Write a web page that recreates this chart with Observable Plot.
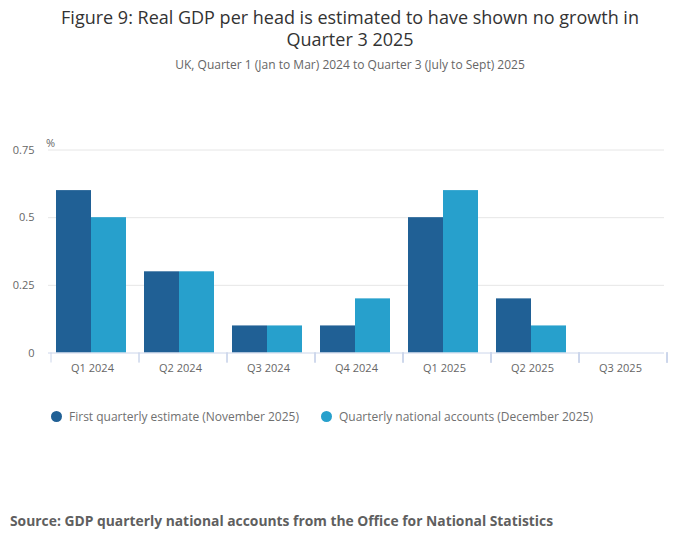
<!DOCTYPE html>
<html>
<head>
<meta charset="utf-8">
<script src="https://cdn.jsdelivr.net/npm/d3@7"></script>
<script src="https://cdn.jsdelivr.net/npm/@observablehq/plot@0.6"></script>
<style>
  html, body { margin: 0; padding: 0; background: #fff; }
  #wrap { position: relative; width: 700px; height: 549px; font-family: "Open Sans", sans-serif; overflow: hidden; }
  .abs { position: absolute; }
  .title { left: 0; width: 700px; text-align: center; font-size: 18px; line-height: 20px; color: #333; white-space: nowrap; }
  #t1 { top: 7px; }
  #t2 { top: 29px; }
  #subtitle { left: 0; width: 700px; top: 57px; text-align: center; font-size: 12px; line-height: 16px; color: #666; }
  #unit { left: 46px; top: 135px; font-size: 11px; color: #666; }
  #chart { left: 0; top: 80px; }
  #legend { left: 51px; top: 408px; display: flex; align-items: center; font-size: 12px; color: #707070; }
  .item { display: flex; align-items: center; margin-right: 22px; }
  .dot { width: 11px; height: 11px; border-radius: 50%; margin-right: 7px; }
  #source { left: 10px; top: 511px; font-size: 13.85px; font-weight: bold; color: #5f5f5f; }
</style>
</head>
<body>
<div id="wrap">
  <div id="t1" class="abs title">Figure 9: Real GDP per head is estimated to have shown no growth in</div>
  <div id="t2" class="abs title">Quarter 3 2025</div>
  <div id="subtitle" class="abs">UK, Quarter 1 (Jan to Mar) 2024 to Quarter 3 (July to Sept) 2025</div>
  <div id="unit" class="abs">%</div>
  <div id="chart" class="abs"></div>
  <div id="legend" class="abs"></div>
  <div id="source" class="abs">Source: GDP quarterly national accounts from the Office for National Statistics</div>
</div>
<script>
const quarters = ["Q1 2024", "Q2 2024", "Q3 2024", "Q4 2024", "Q1 2025", "Q2 2025", "Q3 2025"];
const seriesNames = ["First quarterly estimate (November 2025)", "Quarterly national accounts (December 2025)"];
const firstEstimate = [0.6, 0.3, 0.1, 0.1, 0.5, 0.2, 0];
const quarterlyAccounts = [0.5, 0.3, 0.1, 0.2, 0.6, 0.1, 0];
const yTicks = [0, 0.25, 0.5, 0.75];
const colors = ["#206095", "#27a0cc"];

const data = [];
quarters.forEach((q, i) => {
  data.push({quarter: q, series: seriesNames[0], value: firstEstimate[i]});
  data.push({quarter: q, series: seriesNames[1], value: quarterlyAccounts[i]});
});

const W = 700, H = 300, mT = 69.5, mB = 27.5, mL = 45, mR = 34;

function boundaryTicks(index, scales, values, dimensions) {
  const {width, height, marginLeft, marginRight, marginBottom} = dimensions;
  let fx = scales.fx;
  if (!fx || !fx.bandwidth) {
    fx = d3.scaleBand(quarters, [marginLeft, width - marginRight]).padding(0);
  }
  const edges = quarters.map(q => fx(q));
  edges.push(fx(quarters[quarters.length - 1]) + fx.bandwidth());
  const g = d3.create("svg:g");
  const y0 = height - marginBottom;
  g.selectAll("line").data(edges).join("line")
    .attr("x1", d => d).attr("x2", d => d)
    .attr("y1", y0).attr("y2", y0 + 10)
    .attr("stroke", "#ccd6eb").attr("stroke-width", 1);
  return g.node();
}

const chart = Plot.plot({
  width: W, height: H,
  marginTop: mT, marginBottom: mB, marginLeft: mL, marginRight: mR,
  style: {fontFamily: "Open Sans, sans-serif", fontSize: "11px", color: "#666", background: "transparent"},
  fx: {domain: quarters, padding: 0, label: null},
  x: {domain: seriesNames, paddingInner: 0, paddingOuter: 0.25, align: 0.44, axis: null},
  y: {domain: [0, 0.75], label: null},
  color: {domain: seriesNames, range: colors},
  marks: [
    Plot.gridY(yTicks.slice(1), {stroke: "#e6e6e6", strokeOpacity: 1}),
    Plot.axisY({ticks: yTicks, tickSize: 0, tickPadding: 14, tickFormat: d => String(d), label: null, fill: "#666"}),
    Plot.axisFx({anchor: "bottom", tickSize: 0, tickPadding: 11, label: null, fill: "#666"}),
    Plot.barY(data, {fx: "quarter", x: "series", y: "value", fill: "series"}),
    Plot.ruleY([0], {stroke: "#ccd6eb"}),
    boundaryTicks
  ]
});
document.getElementById("chart").appendChild(chart);

const legend = document.getElementById("legend");
seriesNames.forEach((s, i) => {
  const item = document.createElement("div");
  item.className = "item";
  const dot = document.createElement("span");
  dot.className = "dot";
  dot.style.background = colors[i];
  const label = document.createElement("span");
  label.textContent = s;
  item.appendChild(dot);
  item.appendChild(label);
  legend.appendChild(item);
});
</script>
</body>
</html>
